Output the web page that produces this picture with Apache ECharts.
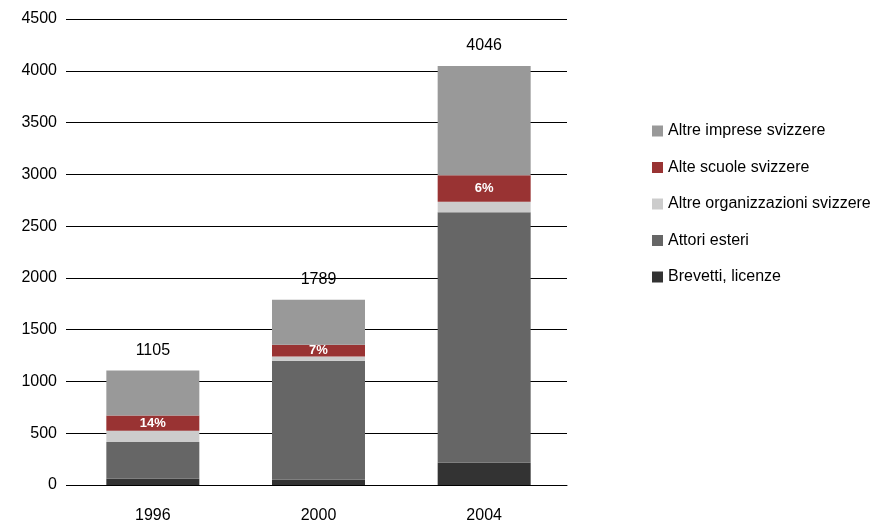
<!DOCTYPE html>
<html><head><meta charset="utf-8">
<script src="https://cdn.jsdelivr.net/npm/echarts@6/dist/echarts.min.js"></script>
<style>html,body{margin:0;padding:0;background:#fff}#c{width:885px;height:524px}</style>
</head><body><div id="c"></div>
<script>
const categories = ['1996', '2000', '2004'];
const brevetti = [60, 50, 215];
const attoriEsteri = [355, 1150, 2420];
const altreOrganizzazioni = [110, 40, 100];
const alteScuole = [145, 115, 255];
const altreImprese = [435, 434, 1056];
const totals = [1105, 1789, 4046];
const quotaAlteScuole = ['14%', '7%', '6%'];
const yTicks = [0, 500, 1000, 1500, 2000, 2500, 3000, 3500, 4000, 4500];

const font = 'Liberation Sans, Arial, sans-serif';
const chart = echarts.init(document.getElementById('c'));
const bw = 93;
chart.setOption({
  animation: false,
  textStyle: { fontFamily: font },
  grid: { left: 70, right: 318, top: 19, bottom: 39 },
  legend: {
    orient: 'vertical', left: 647, top: 118, itemGap: 20.5,
    itemWidth: 11, itemHeight: 11, icon: 'rect',
    textStyle: { fontFamily: font, fontSize: 16, color: '#000' },
    data: ['Altre imprese svizzere', 'Alte scuole svizzere', 'Altre organizzazioni svizzere', 'Attori esteri', 'Brevetti, licenze']
  },
  xAxis: {
    type: 'category', data: categories,
    axisLine: { lineStyle: { color: '#000', width: 1 } },
    axisTick: { show: false },
    axisLabel: { color: '#000', fontSize: 16, margin: 23, fontFamily: font }
  },
  yAxis: {
    type: 'value', min: yTicks[0], max: yTicks[yTicks.length - 1], interval: 500,
    axisLine: { show: false },
    axisTick: { show: true, length: 4, lineStyle: { color: '#000' } },
    axisLabel: { color: '#000', fontSize: 16, margin: 13, fontFamily: font, formatter: v => String(v) },
    splitLine: { lineStyle: { color: '#000', width: 1 } }
  },
  series: [
    { name: 'Brevetti, licenze', type: 'bar', stack: 't', barWidth: bw, data: brevetti, itemStyle: { color: '#333333' } },
    { name: 'Attori esteri', type: 'bar', stack: 't', barWidth: bw, data: attoriEsteri, itemStyle: { color: '#666666' } },
    { name: 'Altre organizzazioni svizzere', type: 'bar', stack: 't', barWidth: bw, data: altreOrganizzazioni, itemStyle: { color: '#cccccc' } },
    { name: 'Alte scuole svizzere', type: 'bar', stack: 't', barWidth: bw, data: alteScuole, itemStyle: { color: '#993333' },
      label: { show: true, position: 'inside', color: '#fff', fontWeight: 'bold', fontSize: 13, fontFamily: font,
        formatter: p => quotaAlteScuole[p.dataIndex] } },
    { name: 'Altre imprese svizzere', type: 'bar', stack: 't', barWidth: bw, data: altreImprese, itemStyle: { color: '#999999' },
      label: { show: true, position: 'top', distance: 12, color: '#000', fontSize: 16, fontFamily: font,
        formatter: p => String(totals[p.dataIndex]) } }
  ]
});
</script></body></html>
